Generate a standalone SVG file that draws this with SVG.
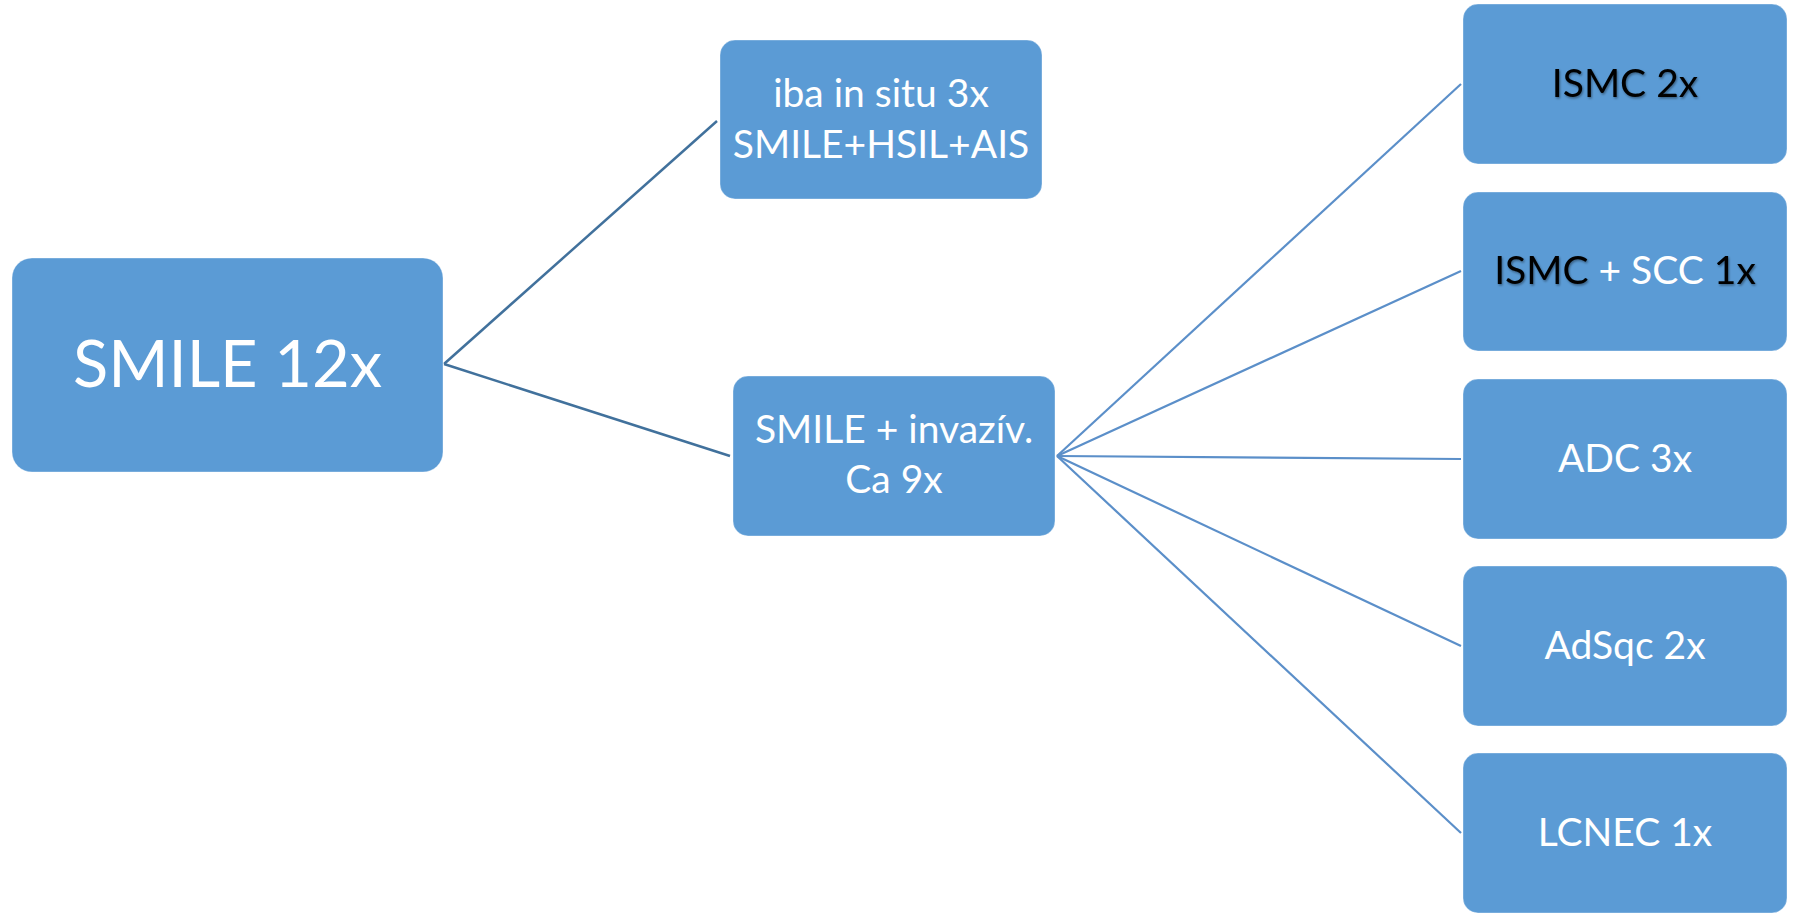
<svg xmlns="http://www.w3.org/2000/svg" width="1794" height="915" viewBox="0 0 1794 915">
<defs>
<style>
.box{fill:#5b9bd5;stroke:#ffffff;stroke-opacity:0.35;stroke-width:1}
.t{font-family:Lato,"Open Sans","Liberation Sans",sans-serif;fill:#ffffff;text-anchor:middle}
.m{font-size:39px}
.dk{fill:#000000;filter:url(#sh)}
.c1{stroke:#41719c;stroke-width:2.5;fill:none}
.c2{stroke:#5b8fc9;stroke-width:2.2;fill:none}
</style>
<filter id="sh" x="-10%" y="-10%" width="130%" height="140%">
<feDropShadow dx="1" dy="1.5" stdDeviation="1" flood-color="#000000" flood-opacity="0.4"/>
</filter>
</defs>
<rect width="1794" height="915" fill="#ffffff"/>
<g id="connectors">
<line class="c1" x1="444" y1="364" x2="717" y2="121"/>
<line class="c1" x1="444" y1="364" x2="730" y2="456"/>
<line class="c2" x1="1057" y1="456" x2="1461" y2="84"/>
<line class="c2" x1="1057" y1="456" x2="1461" y2="271"/>
<line class="c2" x1="1057" y1="456" x2="1461" y2="459"/>
<line class="c2" x1="1057" y1="456" x2="1461" y2="646"/>
<line class="c2" x1="1057" y1="456" x2="1461" y2="833"/>
</g>
<g id="root">
<rect class="box" x="12" y="258" width="431" height="214" rx="20"/>
<text class="t" x="227.5" y="387" font-size="65">SMILE 12x</text>
</g>
<g id="insitu">
<rect class="box" x="720" y="40" width="322" height="159" rx="15"/>
<text class="t m" x="881" y="107">iba in situ 3x</text>
<text class="t m" x="881" y="158">SMILE+HSIL+AIS</text>
</g>
<g id="invaziv">
<rect class="box" x="733" y="376" width="322" height="160" rx="15"/>
<text class="t m" x="894" y="443">SMILE + invazív.</text>
<text class="t m" x="894" y="493">Ca 9x</text>
</g>
<g id="ismc">
<rect class="box" x="1463" y="4" width="324" height="160" rx="15"/>
<text class="t m" x="1625" y="97"><tspan class="dk">ISMC 2x</tspan></text>
</g>
<g id="ismc-scc">
<rect class="box" x="1463" y="192" width="324" height="159" rx="15"/>
<text class="t m" x="1625" y="284"><tspan class="dk">ISMC</tspan> + SCC <tspan class="dk">1x</tspan></text>
</g>
<g id="adc">
<rect class="box" x="1463" y="379" width="324" height="160" rx="15"/>
<text class="t m" x="1625" y="472">ADC 3x</text>
</g>
<g id="adsqc">
<rect class="box" x="1463" y="566" width="324" height="160" rx="15"/>
<text class="t m" x="1625" y="659">AdSqc 2x</text>
</g>
<g id="lcnec">
<rect class="box" x="1463" y="753" width="324" height="160" rx="15"/>
<text class="t m" x="1625" y="846">LCNEC 1x</text>
</g>
</svg>
